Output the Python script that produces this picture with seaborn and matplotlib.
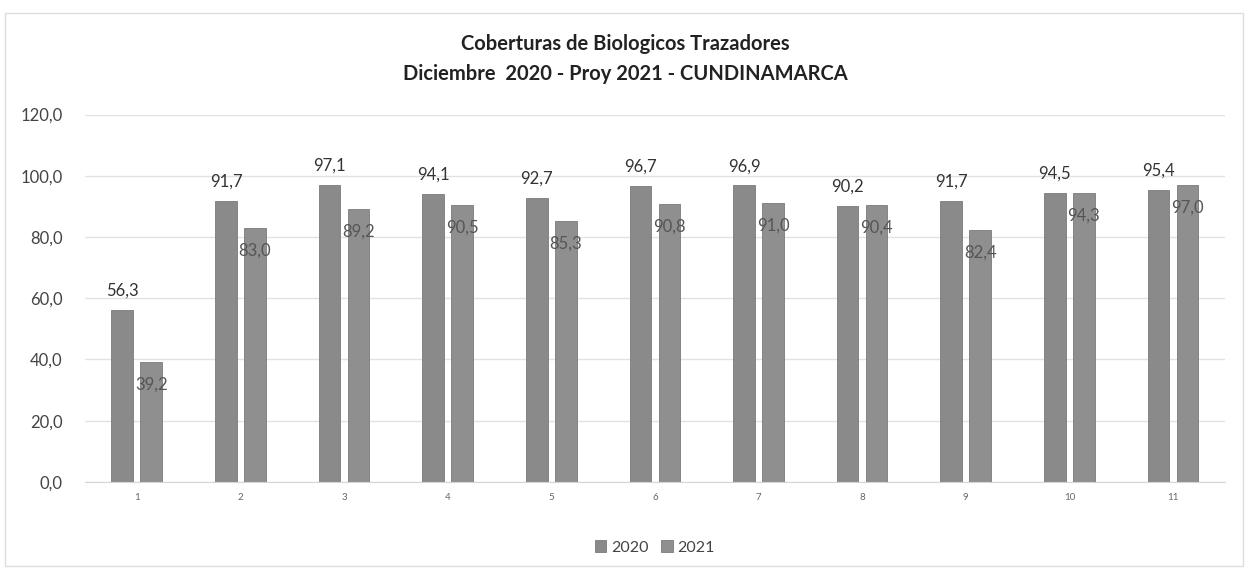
import pandas as pd
import matplotlib.pyplot as plt
import seaborn as sns
from matplotlib.patches import Rectangle

categorias = ['1', '2', '3', '4', '5', '6', '7', '8', '9', '10', '11']
valores_2020 = [56.3, 91.7, 97.1, 94.1, 92.7, 96.7, 96.9, 90.2, 91.7, 94.5, 95.4]
valores_2021 = [39.2, 83.0, 89.2, 90.5, 85.3, 90.8, 91.0, 90.4, 82.4, 94.3, 97.0]
series = ['2020', '2021']

df = pd.DataFrame({
    'cat': categorias * 2,
    'valor': valores_2020 + valores_2021,
    'serie': [series[0]] * len(categorias) + [series[1]] * len(categorias),
})

sns.set_style('white')
plt.rcParams['font.family'] = ['Lato', 'DejaVu Sans']

fig = plt.figure(figsize=(12.51, 5.73), dpi=100)
ax = fig.add_axes([0.068, 0.159, 0.911, 0.641])

sns.barplot(data=df, x='cat', y='valor', hue='serie', order=categorias,
            palette=['#8a8a8a', '#8f8f8f'], width=0.56, gap=0.25,
            edgecolor='#7a7a7a', linewidth=0.6, ax=ax)

fmt = lambda v: f'{v:.1f}'.replace('.', ',')
ax.bar_label(ax.containers[0], labels=[fmt(v) for v in valores_2020],
             padding=8, fontsize=12, color='#333333')
ax.bar_label(ax.containers[1], labels=[fmt(v) for v in valores_2021],
             padding=-22, fontsize=12, color='#555555')

ax.set_ylim(0, 120)
ax.set_xlim(-0.5, 10.5)
ax.set_yticks(range(0, 121, 20))
ax.set_yticklabels([fmt(v) for v in range(0, 121, 20)], fontsize=12, color='#444444')
ax.tick_params(axis='x', labelsize=7, colors='#666666', length=0, pad=8)
ax.tick_params(axis='y', length=0, pad=16)
ax.yaxis.grid(True, color='#e2e2e2', linewidth=1)
ax.set_axisbelow(True)
for s in ['top', 'right', 'left']:
    ax.spines[s].set_visible(False)
ax.spines['bottom'].set_color('#d5d5d5')
ax.set_xlabel('')
ax.set_ylabel('')

fig.suptitle('Coberturas de Biologicos Trazadores\nDiciembre  2020 - Proy 2021 - CUNDINAMARCA',
             y=0.94, fontsize=14.5, fontweight='bold', color='#222222', linespacing=1.6)

leg = ax.legend(loc='upper center', bbox_to_anchor=(0.5, -0.12), ncol=2, frameon=False,
                fontsize=11.5, handlelength=0.7, handleheight=0.7, handletextpad=0.3,
                columnspacing=0.8)
for t in leg.get_texts():
    t.set_color('#444444')

fig.patches.append(Rectangle((0.004, 0.012), 0.99, 0.965, transform=fig.transFigure,
                             fill=False, edgecolor='#dddddd', linewidth=1))

fig.savefig('out.png', dpi=100, facecolor='white')
